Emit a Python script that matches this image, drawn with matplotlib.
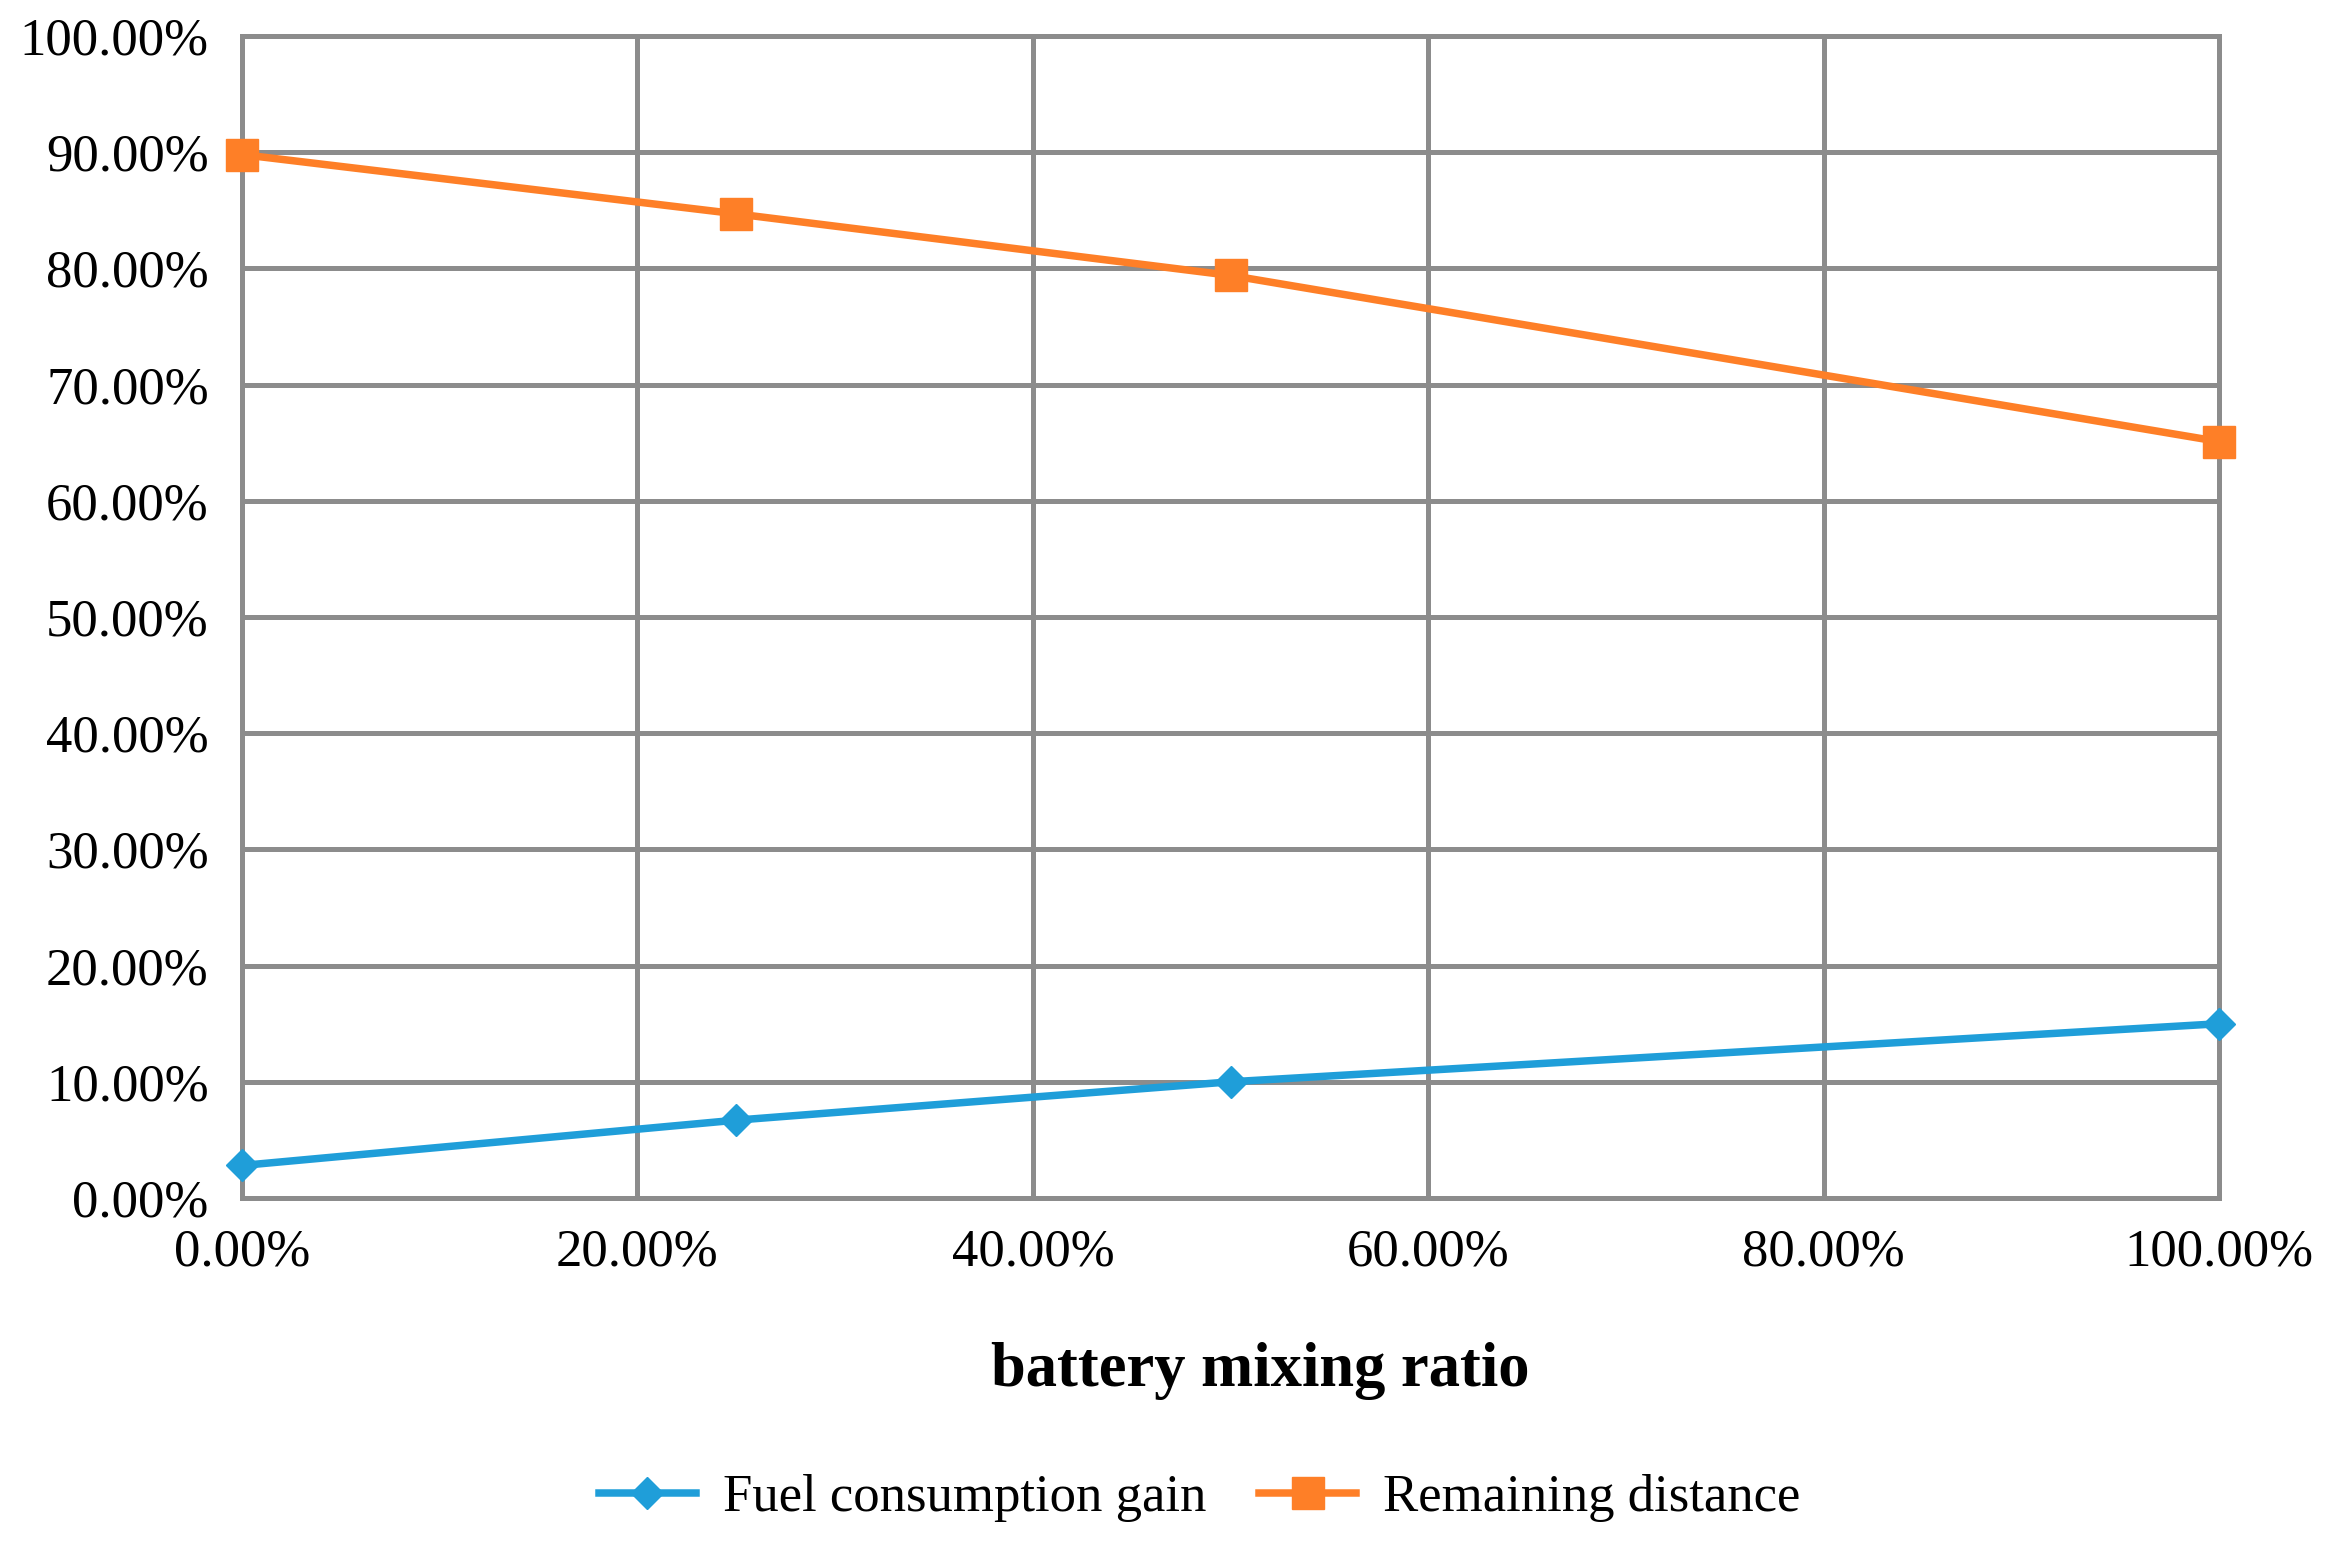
import matplotlib
matplotlib.use("Agg")
import matplotlib.pyplot as plt
from matplotlib.ticker import PercentFormatter, MultipleLocator

# battery mixing ratio (fraction)
mix_ratio = [0.0, 0.25, 0.50, 1.00]
fuel_gain = [0.028, 0.067, 0.100, 0.150]
remaining = [0.898, 0.847, 0.794, 0.651]

plt.rcParams["font.family"] = ["Liberation Serif", "DejaVu Serif"]

grid_col = "#8c8c8c"
blue = "#1f9ed9"
orange = "#fe7f27"

fig = plt.figure(figsize=(23.38, 15.48), dpi=100)
ax = fig.add_axes([0.1035, 0.2261, 0.8457, 0.7506])

ax.plot(mix_ratio, fuel_gain, color=blue, lw=5.4, marker="D", ms=16,
        label="Fuel consumption gain", clip_on=False, zorder=3)
ax.plot(mix_ratio, remaining, color=orange, lw=5.4, marker="s", ms=23,
        label="Remaining distance", clip_on=False, zorder=3)

ax.set_xlim(0, 1)
ax.set_ylim(0, 1)
ax.xaxis.set_major_locator(MultipleLocator(0.2))
ax.yaxis.set_major_locator(MultipleLocator(0.1))
ax.xaxis.set_major_formatter(PercentFormatter(xmax=1, decimals=2))
ax.yaxis.set_major_formatter(PercentFormatter(xmax=1, decimals=2))

ax.grid(True, color=grid_col, lw=3.6, zorder=0)
ax.set_axisbelow(True)
for s in ax.spines.values():
    s.set_color(grid_col)
    s.set_linewidth(3.6)

ax.tick_params(axis="both", length=0, labelsize=38)
ax.tick_params(axis="y", pad=24)
ax.tick_params(axis="x", pad=22)

ax.set_xlabel("battery mixing ratio", fontsize=45, fontweight="bold", labelpad=47)
ax.xaxis.label.set_x(0.515)

fig.legend(loc="center", bbox_to_anchor=(0.513, 0.032), ncol=2, frameon=False,
           fontsize=38, handlelength=1.85, columnspacing=1.0, handletextpad=0.5)

fig.savefig("out.png", dpi=100)
